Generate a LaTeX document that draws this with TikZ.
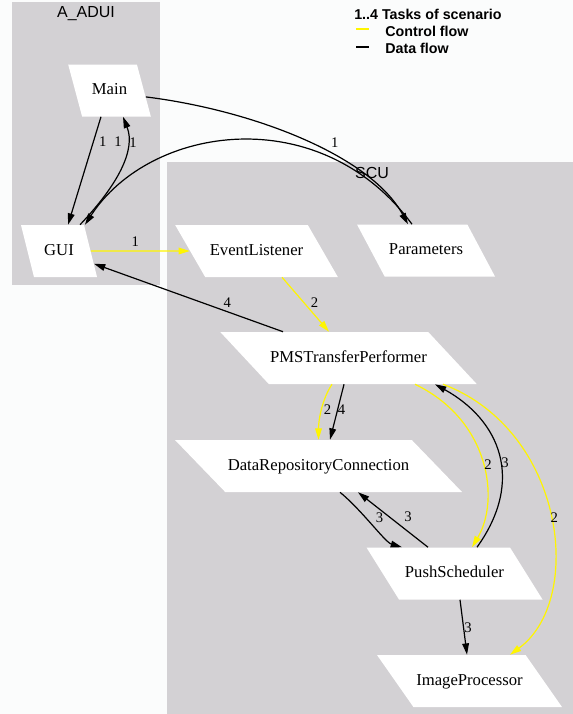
\documentclass[tikz,border=0pt]{standalone}
\usepackage{fontspec}
\setmainfont{Liberation Serif}
\setsansfont{Liberation Sans}
\usetikzlibrary{shapes.geometric,arrows.meta,calc,positioning}

\definecolor{clustergray}{RGB}{211,209,212}
\definecolor{paper}{RGB}{251,252,252}
\definecolor{ctrlyellow}{RGB}{255,245,0}

\tikzset{
  task/.style={trapezium, trapezium stretches body, fill=white, inner xsep=1pt,
    inner ysep=13.5pt, text height=9pt, text depth=3pt, font=\fontsize{12.5}{14}\selectfont},
  lean/.code={\pgfmathsetmacro\obtuse{180-#1}%
    \edef\leantmp{\noexpand\pgfkeysalso{trapezium left angle=\obtuse, trapezium right angle=#1}}\leantmp},
  flow/.style={line width=0.9pt, -{Triangle[length=8.5pt,width=5pt]}},
  ctrl/.style={flow, draw=ctrlyellow},
  data/.style={flow, draw=black},
  lbl/.style={inner sep=0pt, font=\fontsize{11}{12}\selectfont},
  cluster/.style={inner sep=0pt, font=\sffamily\fontsize{12}{14}\selectfont},
  legend/.style={anchor=west, inner sep=0pt, font=\sffamily\bfseries\fontsize{10.7}{12}\selectfont}
}

\begin{document}
\begin{tikzpicture}[x=0.75pt, y=-0.75pt]
  \useasboundingbox (0,0) rectangle (573,714);
  \fill[paper] (0,0) rectangle (573,714);
  \fill[clustergray] (12,2) rectangle (160,285);
  \fill[clustergray] (167,162) rectangle (573,714);
  \node[cluster] (aadui) at (86,14) {A\_ADUI};
  \node[cluster] (scu) at (372,173) {SCU};

  % legend
  \node[legend] (legtitle) at (354,14) {1..4 Tasks of scenario};
  \node[legend] (legctrl) at (385,31) {Control flow};
  \node[legend] (legdata) at (385,48) {Data flow};
  \coordinate (ctrlkey) at (356,29);
  \coordinate (datakey) at (356,47);
  \draw[ctrlyellow, line width=0.9pt] (ctrlkey) -- ++(13,0);
  \draw[line width=0.8pt] (datakey) -- ++(13,0);

  \node[task, lean=75, minimum width=62pt] (main) at (109.5,90.5) {Main};
  \node[task, lean=76, minimum width=57pt] (gui) at (59,251) {GUI};
  \node[task, lean=60, minimum width=122pt] (el) at (256.5,251) {EventListener};
  \node[task, lean=62, minimum width=103.5pt] (par) at (426,250.5) {Parameters};
  \node[task, lean=47, minimum width=191.25pt] (pms) at (348.5,358) {PMSTransferPerformer};
  \node[task, lean=46, minimum width=215.25pt] (drc) at (318.5,466) {DataRepositoryConnection};
  \node[task, lean=58, minimum width=132pt] (ps) at (454.5,573.5) {PushScheduler};
  \node[task, lean=55, minimum width=138.75pt] (ip) at (469.5,681) {ImageProcessor};

  \draw[data] ($(main.south)+(-8.5,0)$) -- node[lbl, pos=.23, xshift=7pt] {1} ($(gui.north)+(9,0)$);
  \draw[data] ($(gui.north)+(21,0)$) .. controls +(38,-40) and +(13,33) .. node[lbl, pos=.75, xshift=-6.75pt] {1} ($(main.south)+(13.5,0)$);
  \draw[data] ($(par.north)+(-14,0)$) .. controls +(-92,-124.5) and +(65,-100) .. node[lbl, pos=.8, xshift=-1.5pt, yshift=24pt] {1} ($(gui.north)+(26,0)$);
  \draw[data] (main.-10) .. controls +(105,13) and +(-38,-69.5) .. node[lbl, pos=.62, yshift=10pt] {1} ($(par.north)+(-18,0)$);
  \draw[ctrl] (gui.east) -- node[lbl, pos=.45, yshift=7.3pt] {1} (el.west);
  \draw[ctrl] ($(el.south)+(25.5,0)$) -- node[lbl, pos=.46, xshift=8.25pt] {2} ($(pms.north)+(-19.5,0)$);
  \draw[data] ($(pms.north)+(-65.5,0)$) -- node[lbl, pos=.3, xshift=.75pt, yshift=6.3pt] {4} (gui.-20);
  \draw[ctrl] ($(pms.south)+(-16.5,0)$) .. controls +(-10,15) and +(0,-20) .. node[lbl, pos=.5, xshift=4.5pt] {2} (drc.north);
  \draw[data] ($(pms.south)+(-4.5,0)$) -- node[lbl, pos=.46, xshift=3pt] {4} ($(drc.north)+(11.5,0)$);
  \draw[ctrl] ($(pms.south)+(66.5,0)$) .. controls +(75,36) and +(28,-47) .. node[lbl, pos=.5, xshift=4.5pt, yshift=-2pt] {2} ($(ps.north)+(17.5,0)$);
  \draw[data] ($(ps.north)+(22.5,0)$) .. controls +(48,-67) and +(65,36) .. node[lbl, pos=.45, xshift=3.5pt] {3} ($(pms.south)+(86.5,0)$);
  \draw[ctrl] ($(pms.south)+(94.5,0)$) .. controls +(122,46) and +(75,-55) .. node[lbl, pos=.5, xshift=3pt, yshift=-1.5pt] {2} ($(ip.north)+(40.5,0)$);
  \draw[data] ($(drc.south)+(21.5,0)$) .. controls +(22,18) and +(-17,-5) .. node[lbl, pos=.5, xshift=5pt, yshift=5pt] {3} ($(ps.north)+(-52.5,0)$);
  \draw[data] ($(ps.north)+(-26.5,0)$) -- node[lbl, pos=.55, xshift=13.9pt] {3} ($(drc.south)+(39.5,0)$);
  \draw[data] ($(ps.south)+(5.5,0)$) -- node[lbl, pos=.5, xshift=3.4pt] {3} ($(ip.north)+(-2.5,0)$);
\end{tikzpicture}
\end{document}
